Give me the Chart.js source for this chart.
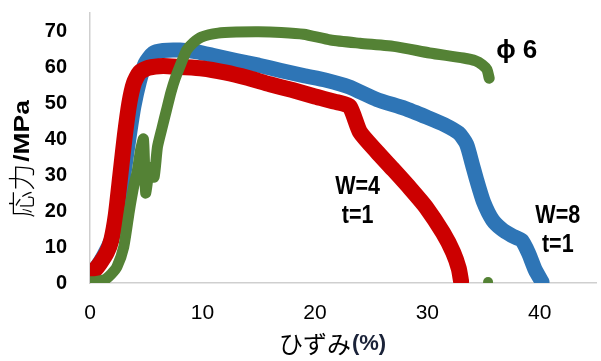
<!DOCTYPE html>
<html>
<head>
<meta charset="utf-8">
<script src="https://cdn.jsdelivr.net/npm/chart.js@4.4.1/dist/chart.umd.min.js"></script>
<style>
  html, body { margin: 0; padding: 0; background: #fff; }
  #wrap { width: 601px; height: 361px; }
</style>
</head>
<body>
<div id="wrap"><canvas id="ssChart" width="601" height="361"></canvas></div>
<script>
// ---------- data ----------
const strainTicks = [0, 10, 20, 30, 40];
const stressTicks = [0, 10, 20, 30, 40, 50, 60, 70];

// W=8 t=1 (blue)
const w8Strain = [-0.2, 0.5, 1.2, 1.9, 2.5, 3.0, 3.5, 3.9, 4.4, 4.9, 5.6, 6.5, 8, 9.5, 11, 13, 15, 17, 19, 21, 23, 25.5, 28, 30, 31.5, 32.8, 33.5, 34, 34.4, 35, 35.8, 36.6, 37.5, 38.4, 39, 39.6, 40.2];
const w8Stress = [1.5, 4, 7.5, 12, 19, 30, 41, 49, 56, 61, 63.8, 64.6, 64.7, 64.2, 63.2, 61.8, 60.5, 59, 57.6, 56.3, 54.5, 51, 48.5, 46, 44, 41.6, 38.5, 33, 28.5, 22.5, 17.5, 15, 13.2, 11.8, 8.3, 3.6, 0.3];

// W=4 t=1 (red)
const w4Strain = [-0.2, 0.4, 0.9, 1.5, 1.9, 2.3, 2.7, 3.1, 3.5, 3.9, 4.4, 5.2, 6.5, 8, 10, 12, 14, 16, 18, 20, 22, 23.1, 24, 25.5, 27, 28.5, 29.9, 31.4, 32.3, 32.8, 33];
const w4Stress = [1.5, 3.5, 5.5, 8.5, 12, 19, 30, 41, 50, 55.5, 58.5, 59.8, 60.3, 60, 59.6, 58.5, 57, 55.2, 53.6, 51.8, 50.2, 49, 42, 36.5, 31.4, 26.2, 21, 13.9, 8.5, 4, 0.5];

// φ6 (green)
const phiStrain = [-0.2, 0.6, 1.3, 1.9, 2.4, 3.0, 3.5, 3.9, 4.2, 4.5, 4.75, 4.85, 4.95, 5.2, 5.4, 5.7, 6.0, 6.4, 6.8, 7.2, 7.6, 8.1, 8.6, 9.2, 9.9, 11.4, 13, 15, 17, 19, 21.4, 24, 27.3, 30.2, 33.2, 34.3, 34.9, 35.3, 35.5];
const phiStress = [0.3, 0.4, 0.9, 2.5, 4.5, 10, 20, 27, 31, 37, 40, 33, 25, 30, 32, 29.4, 37.8, 43, 48, 53, 57, 61, 64.7, 66.8, 68.3, 69.4, 69.7, 69.8, 69.6, 69.1, 67.5, 66.6, 65.6, 63.9, 62.5, 61.7, 60.6, 59.3, 56.9];
const phiTailStrain = [35.4];
const phiTailStress = [0.3];

const seriesNotes = [
  { lines: ["ϕ 6"], x: 37.95, y: 64.4, size: 26 },
  { lines: ["W=4", "t=1"], x: 23.8, y: 26.7, size: 25 },
  { lines: ["W=8", "t=1"], x: 41.6, y: 18.6, size: 25 },
];

const BLUE = "#2E75B6";
const RED = "#CC0000";
const GREEN = "#548235";
const AXIS = "#CFCFCF";

const toPts = (xs, ys) => xs.map((x, i) => ({ x, y: ys[i] }));

// ---------- text drawn on top ----------
const textPlugin = {
  id: "texts",
  afterDraw(chart) {
    const { ctx, scales } = chart;
    const xs = scales.x, ys = scales.y;
    ctx.save();
    ctx.fillStyle = "#000";
    ctx.textAlign = "center";
    ctx.textBaseline = "middle";

    // series labels (condensed bold)
    seriesNotes.forEach((n) => {
      const px = xs.getPixelForValue(n.x);
      const py0 = ys.getPixelForValue(n.y);
      n.lines.forEach((t, i) => {
        ctx.save();
        ctx.translate(px, py0 + i * 29);
        ctx.scale(n.lines.length > 1 ? 0.86 : 1, 1);
        ctx.font = `bold ${n.size}px "Liberation Sans", Arial, sans-serif`;
        ctx.fillText(t, 0, 0);
        ctx.restore();
      });
    });

    // x title: ひずみ(%)
    const xa = "ひずみ", xb = "(%)";
    ctx.font = '24px "Noto Sans CJK JP", sans-serif';
    const wa = ctx.measureText(xa).width;
    ctx.font = 'bold 22px "Liberation Sans", Arial, sans-serif';
    const wb = ctx.measureText(xb).width;
    let sx = 332 - (wa + wb) / 2;
    ctx.textAlign = "left";
    ctx.font = '24px "Noto Sans CJK JP", sans-serif';
    ctx.fillText(xa, sx, 344);
    ctx.fillStyle = "#1a2238";
    ctx.font = 'bold 22px "Liberation Sans", Arial, sans-serif';
    ctx.fillText(xb, sx + wa + 1, 344);

    // y title: 応力/MPa (rotated)
    ctx.fillStyle = "#000";
    ctx.translate(22, 160);
    ctx.rotate(-Math.PI / 2);
    const ya = "応力", yb = "/MPa";
    ctx.font = '300 27px "Noto Sans CJK JP", sans-serif';
    const wya = ctx.measureText(ya).width;
    ctx.font = 'bold 22px "Liberation Sans", Arial, sans-serif';
    const wyb = ctx.measureText(yb).width * 1.2;
    const sy = -(wya + wyb) / 2;
    ctx.font = '300 27px "Noto Sans CJK JP", sans-serif';
    ctx.fillText(ya, sy, 0);
    ctx.save();
    ctx.translate(sy + wya + 2, 1);
    ctx.scale(1.2, 1);
    ctx.font = 'bold 22px "Liberation Sans", Arial, sans-serif';
    ctx.fillText(yb, 0, 0);
    ctx.restore();
    ctx.restore();
  },
};

const lineDs = (label, pts, color, width) => ({
  label,
  data: pts,
  showLine: true,
  borderColor: color,
  backgroundColor: color,
  borderWidth: width,
  borderCapStyle: "round",
  borderJoinStyle: "round",
  pointRadius: 0,
  tension: 0.2,
});

new Chart(document.getElementById("ssChart"), {
  type: "scatter",
  data: {
    datasets: [
      // first dataset is painted last (on top)
      {
        label: "φ6 end",
        data: toPts(phiTailStrain, phiTailStress),
        pointRadius: 5,
        pointBackgroundColor: GREEN,
        pointBorderWidth: 0,
      },
      lineDs("φ6", toPts(phiStrain, phiStress), GREEN, 11),
      lineDs("W=4 t=1", toPts(w4Strain, w4Stress), RED, 16),
      lineDs("W=8 t=1", toPts(w8Strain, w8Stress), BLUE, 15),
    ],
  },
  options: {
    responsive: false,
    animation: false,
    devicePixelRatio: 1,
    layout: { padding: { top: 13, left: 0, right: 0, bottom: 0 } },
    plugins: {
      legend: { display: false },
      tooltip: { enabled: false },
    },
    scales: {
      x: {
        type: "linear",
        min: 0,
        max: 45,
        grid: { display: false, drawTicks: false },
        border: { display: true, color: AXIS, width: 1.5 },
        afterBuildTicks: (s) => { s.ticks = strainTicks.map((v) => ({ value: v })); },
        afterFit: (s) => {
          s.height = 78;
          s.paddingLeft = 0;
          s.paddingRight = 0;
        },
        ticks: {
          padding: 18,
          color: "#000",
          font: { family: '"Liberation Sans", Arial, sans-serif', size: 21 },
        },
      },
      y: {
        type: "linear",
        min: 0,
        max: 75,
        grid: { display: false, drawTicks: false },
        border: { display: true, color: AXIS, width: 1.5 },
        afterBuildTicks: (s) => { s.ticks = stressTicks.map((v) => ({ value: v })); },
        afterFit: (s) => {
          s.width = 90;
          s.paddingTop = 0;
          s.paddingBottom = 0;
        },
        ticks: {
          padding: 23,
          color: "#000",
          font: { family: '"Liberation Sans", Arial, sans-serif', size: 20, weight: "bold" },
        },
      },
    },
  },
  plugins: [textPlugin],
});
</script>
</body>
</html>
